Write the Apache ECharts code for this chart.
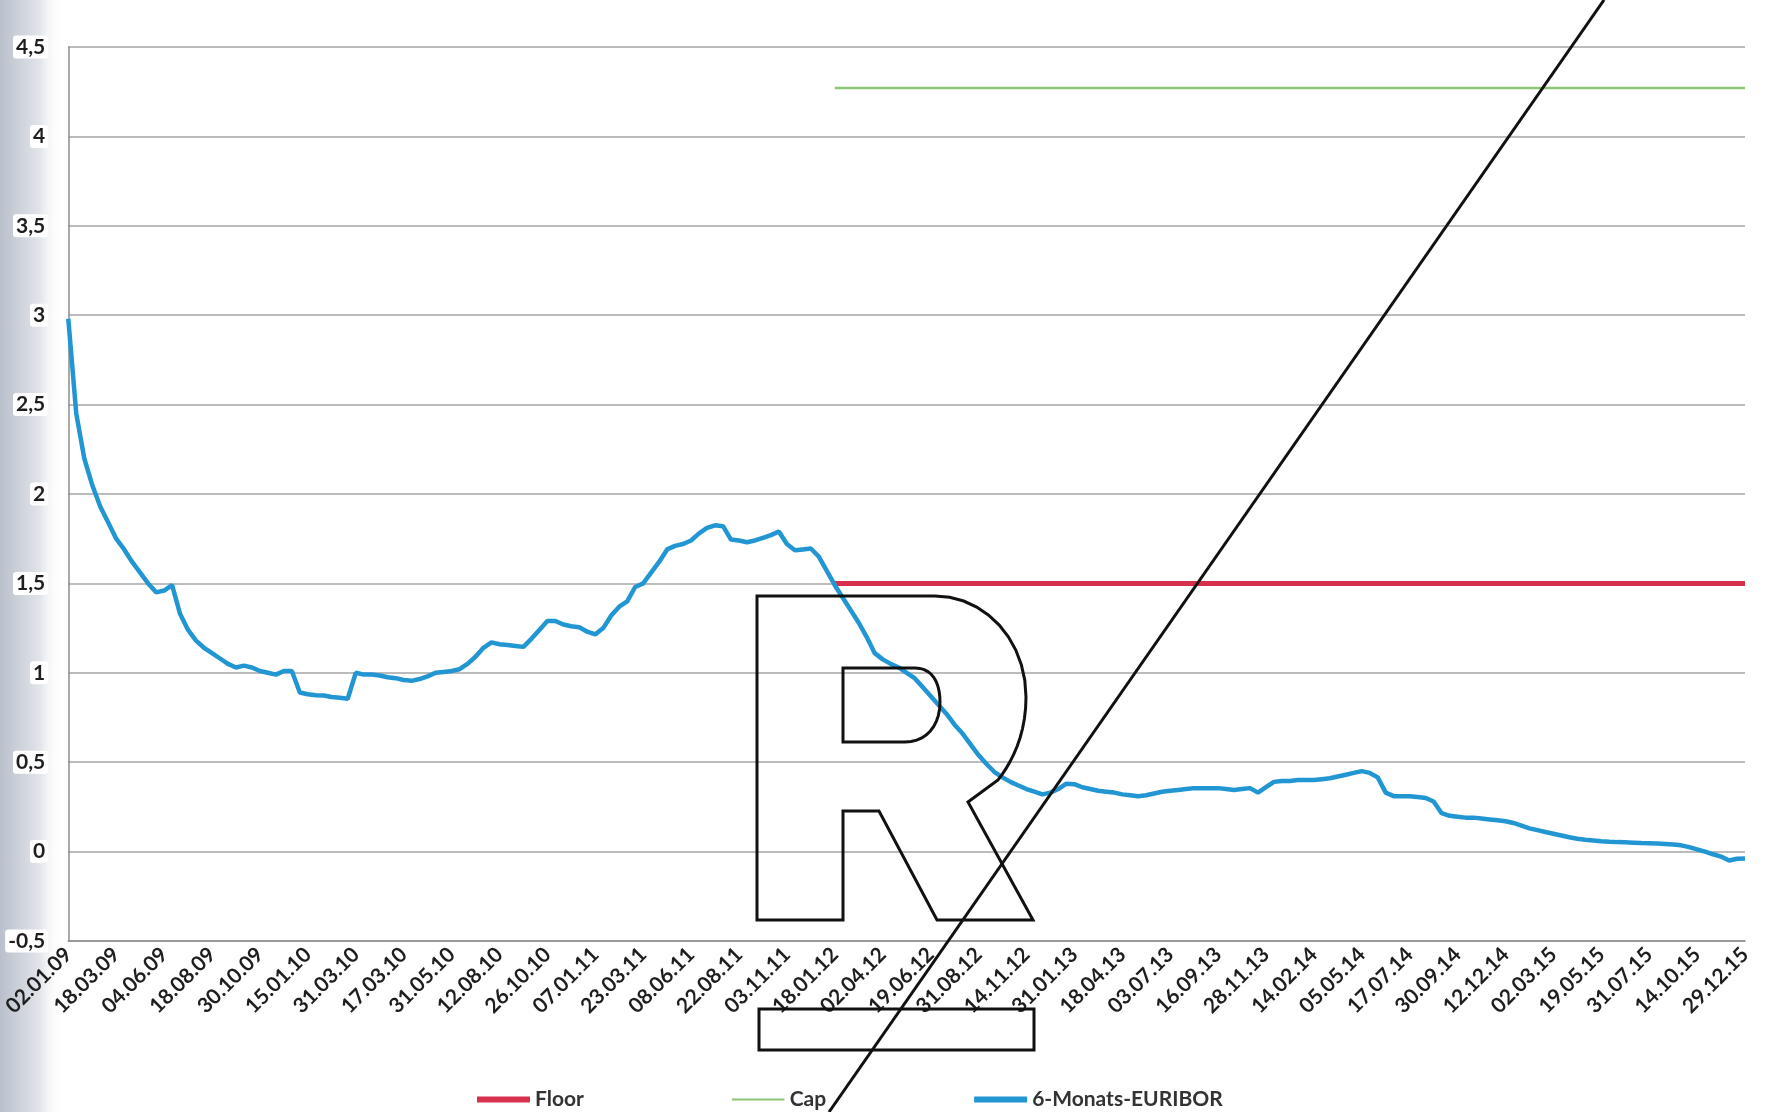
<!DOCTYPE html>
<html lang="de">
<head>
<meta charset="UTF-8">
<title>6-Monats-EURIBOR mit Cap und Floor</title>
<script src="https://cdn.jsdelivr.net/npm/echarts@6/dist/echarts.min.js"></script>
<style>
    html, body {margin: 0; padding: 0; background: #fff;}
    #main {width: 1771px; height: 1112px;}
</style>
</head>
<body>
<div id="main"></div>
<script>
    // Achsenbeschriftung (jede 6. Kategorie)
    var dateLabels = [
        '02.01.09', '18.03.09', '04.06.09', '18.08.09', '30.10.09',
        '15.01.10', '31.03.10', '17.03.10', '31.05.10', '12.08.10', '26.10.10',
        '07.01.11', '23.03.11', '08.06.11', '22.08.11', '03.11.11',
        '18.01.12', '02.04.12', '19.06.12', '31.08.12', '14.11.12',
        '31.01.13', '18.04.13', '03.07.13', '16.09.13', '28.11.13',
        '14.02.14', '05.05.14', '17.07.14', '30.09.14', '12.12.14',
        '02.03.15', '19.05.15', '31.07.15', '14.10.15', '29.12.15'
    ];
    var stepsPerLabel = 6;

    // 6-Monats-EURIBOR in % (6 Werte je Beschriftungsabstand)
    var euribor = [
        2.98, 2.45, 2.2, 2.05, 1.93, 1.84,
        1.75, 1.69, 1.62, 1.56, 1.50, 1.45,
        1.46, 1.49, 1.33, 1.24, 1.18, 1.14,
        1.11, 1.08, 1.05, 1.03, 1.04, 1.03,
        1.01, 1.0, 0.99, 1.01, 1.01, 0.89,
        0.88, 0.875, 0.873, 0.865, 0.86, 0.855,
        1.0, 0.99, 0.99, 0.985, 0.975, 0.97,
        0.96, 0.955, 0.965, 0.98, 1.0, 1.005,
        1.01, 1.02, 1.05, 1.09, 1.14, 1.17,
        1.16, 1.155, 1.15, 1.145, 1.19, 1.24,
        1.29, 1.29, 1.27, 1.26, 1.255, 1.23,
        1.215, 1.25, 1.32, 1.37, 1.40, 1.48,
        1.50, 1.56, 1.62, 1.69, 1.71, 1.72,
        1.74, 1.78, 1.81, 1.825, 1.82, 1.745,
        1.74, 1.73, 1.74, 1.755, 1.77, 1.79,
        1.72, 1.685, 1.69, 1.695, 1.65, 1.57,
        1.49, 1.42, 1.35, 1.28, 1.2, 1.11,
        1.075, 1.05, 1.03, 1.0, 0.97, 0.92,
        0.87, 0.82, 0.77, 0.71, 0.66, 0.6,
        0.54, 0.49, 0.445, 0.415, 0.39, 0.37,
        0.35, 0.335, 0.32, 0.33, 0.35, 0.38,
        0.377, 0.36, 0.35, 0.34, 0.335, 0.33,
        0.32, 0.315, 0.31, 0.315, 0.325, 0.335,
        0.34, 0.345, 0.35, 0.355, 0.355, 0.355,
        0.355, 0.35, 0.345, 0.35, 0.355, 0.33,
        0.36, 0.39, 0.395, 0.395, 0.4, 0.4,
        0.4, 0.405, 0.41, 0.42, 0.43, 0.44,
        0.45, 0.44, 0.415, 0.33, 0.31, 0.31,
        0.31, 0.305, 0.3, 0.28, 0.215, 0.2,
        0.195, 0.19, 0.19, 0.185, 0.18, 0.175,
        0.17, 0.16, 0.145, 0.13, 0.12, 0.11,
        0.10, 0.09, 0.08, 0.072, 0.066, 0.062,
        0.058, 0.055, 0.053, 0.052, 0.05, 0.048,
        0.047, 0.045, 0.043, 0.04, 0.035, 0.025,
        0.012, 0.0, -0.015, -0.028, -0.05, -0.04,
        -0.038
    ];

    // Zinsgrenzen ab Vertragsbeginn
    var floorRate = 1.5;
    var capRate = 4.27;
    var limitStart = '18.01.12';
    var limitEnd = '29.12.15';

    // Kategorien: Datum an jeder Beschriftung, dazwischen leer
    var categories = [];
    dateLabels.forEach(function (d, i) {
        categories.push(d);
        if (i < dateLabels.length - 1) {
            for (var j = 1; j < stepsPerLabel; j++) categories.push('');
        }
    });
    var startIdx = categories.indexOf(limitStart);
    var endIdx = categories.indexOf(limitEnd);

    // Bezier-Stuecke fuer den Stempel (nur Deko)
    function bez(p0, p1, p2, p3) {
        var pts = [];
        for (var t = 0.1; t <= 1.0001; t += 0.1) {
            var u = 1 - t;
            pts.push([
                u*u*u*p0[0] + 3*u*u*t*p1[0] + 3*u*t*t*p2[0] + t*t*t*p3[0],
                u*u*u*p0[1] + 3*u*u*t*p1[1] + 3*u*t*t*p2[1] + t*t*t*p3[1]
            ]);
        }
        return pts;
    }
    var rOuter = [[757, 596], [935, 596]]
        .concat(bez([935, 596], [985, 596], [1026, 640], [1026, 697]))
        .concat(bez([1026, 697], [1026, 735], [1012, 762], [998, 780]))
        .concat([[968, 802], [1033, 920], [937, 920], [879, 811], [843, 811], [843, 920], [757, 920]]);
    var rInner = [[843, 668], [915, 668]]
        .concat(bez([915, 668], [932, 668], [940, 682], [940, 702]))
        .concat(bez([940, 702], [940, 726], [926, 742], [905, 742]))
        .concat([[843, 742]]);

    var labelFont = {fontFamily: 'Lato', fontWeight: 'bold', fontSize: 21, color: '#1e1e1e'};
    // duenner Strich als Legendensymbol fuer Cap
    var thinIcon = 'path://M0,2H53V4H0Z M0,0H0.05V0.05H0Z M0,6H0.05V6.05H0Z';

    var myChart = echarts.init(document.getElementById('main'));
    var option = {
        backgroundColor: '#ffffff',
        animation: false,
        grid: {left: 67, right: 26, top: 47, bottom: 171, containLabel: false},
        legend: {
            left: 472,
            top: 1084,
            itemWidth: 53,
            itemHeight: 6,
            itemGap: 148,
            textStyle: {fontFamily: 'Lato', fontWeight: 'bold', fontSize: 21, color: '#333'},
            data: [
                {name: 'Floor', icon: 'rect'},
                {name: 'Cap', icon: thinIcon},
                {name: '6-Monats-EURIBOR', icon: 'rect'}
            ]
        },
        xAxis: {
            type: 'category',
            data: categories,
            boundaryGap: false,
            axisLine: {show: true, onZero: false, lineStyle: {color: '#8c8c8c', width: 1.5}},
            axisTick: {show: false},
            splitLine: {show: false},
            axisLabel: Object.assign({interval: stepsPerLabel - 1, rotate: 45, margin: 10}, labelFont)
        },
        yAxis: {
            type: 'value',
            min: -0.5,
            max: 4.5,
            interval: 0.5,
            axisLine: {show: true, lineStyle: {color: '#8c8c8c', width: 1.5}},
            axisTick: {show: false},
            splitLine: {lineStyle: {color: '#a6a6a6', width: 1.5}},
            axisLabel: Object.assign({
                margin: 20,
                backgroundColor: '#ffffff',
                padding: [1, 3],
                borderRadius: 3,
                formatter: function (v) { return String(v).replace('.', ','); }
            }, labelFont)
        },
        series: [
            {
                name: 'Floor', type: 'line', symbol: 'none', z: 3,
                color: '#d7304c',
                lineStyle: {width: 5, color: '#d7304c'},
                data: [[startIdx, floorRate], [endIdx, floorRate]]
            },
            {
                name: 'Cap', type: 'line', symbol: 'none', z: 3,
                color: '#8cc873',
                lineStyle: {width: 2.5, color: '#8cc873'},
                data: [[startIdx, capRate], [endIdx, capRate]]
            },
            {
                name: '6-Monats-EURIBOR', type: 'line', symbol: 'none', z: 4,
                color: '#2196d2',
                lineStyle: {width: 4.5, color: '#2196d2'},
                data: euribor
            }
        ],
        graphic: [
            // grauer Scanrand links
            {
                type: 'rect', z: -10, silent: true,
                shape: {x: 0, y: 0, width: 62, height: 1112},
                style: {
                    fill: new echarts.graphic.LinearGradient(0, 0, 1, 0, [
                        {offset: 0, color: '#b9c0cb'},
                        {offset: 0.65, color: '#e2e5ea'},
                        {offset: 1, color: 'rgba(255,255,255,0)'}
                    ])
                }
            },
            // Stempel: R, Rahmen und Schraegstrich
            {
                type: 'polygon', z: 100, silent: true,
                shape: {points: rOuter},
                style: {fill: 'transparent', stroke: '#111', lineWidth: 3}
            },
            {
                type: 'polygon', z: 100, silent: true,
                shape: {points: rInner},
                style: {fill: 'transparent', stroke: '#111', lineWidth: 3}
            },
            {
                type: 'rect', z: 100, silent: true,
                shape: {x: 759, y: 1009, width: 275, height: 41},
                style: {fill: 'transparent', stroke: '#111', lineWidth: 3}
            },
            {
                type: 'line', z: 100, silent: true,
                shape: {x1: 1604, y1: 0, x2: 829, y2: 1112},
                style: {stroke: '#111', lineWidth: 3}
            }
        ]
    };
    myChart.setOption(option);
</script>
</body>
</html>
